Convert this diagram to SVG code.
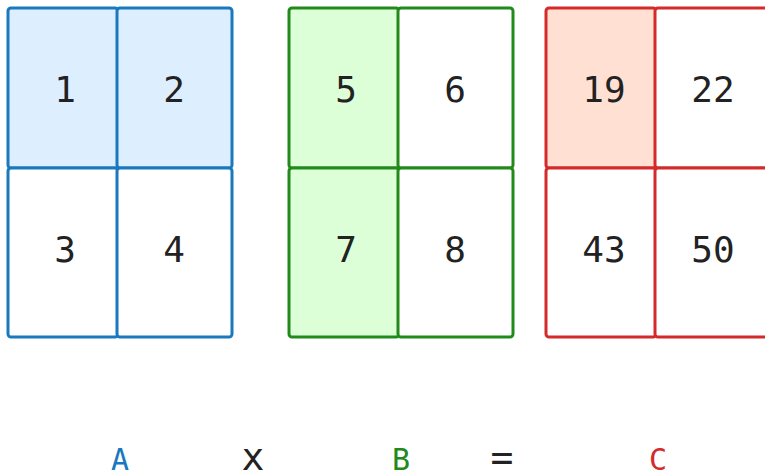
<svg xmlns="http://www.w3.org/2000/svg" width="765" height="476" viewBox="0 0 765 476">
<style>
.c{stroke-width:3;}
.a{stroke:#1a78be;}
.b{stroke:#218a1a;}
.r{stroke:#d42a2a;}
.t{font-family:"DejaVu Sans Mono",monospace;font-size:36px;fill:#222;text-anchor:middle;}
.l{font-family:"DejaVu Sans Mono",monospace;font-size:30px;text-anchor:middle;}
.o{font-family:"DejaVu Sans Mono",monospace;font-size:38px;text-anchor:middle;fill:#222;}
</style>
<rect width="765" height="476" fill="#fff"/>
<g id="matrixA">
<rect class="c a" x="8" y="8" width="110" height="160" rx="3" fill="#ddeeff"/>
<rect class="c a" x="117" y="8" width="115" height="160" rx="3" fill="#ddeeff"/>
<rect class="c a" x="8" y="168" width="110" height="169" rx="3" fill="#fff"/>
<rect class="c a" x="117" y="168" width="115" height="169" rx="3" fill="#fff"/>
<text class="t" x="65" y="102">1</text>
<text class="t" x="174" y="102">2</text>
<text class="t" x="65" y="262">3</text>
<text class="t" x="174" y="262">4</text>
</g>
<g id="matrixB">
<rect class="c b" x="289" y="8" width="110" height="160" rx="3" fill="#ddffd8"/>
<rect class="c b" x="398" y="8" width="115" height="160" rx="3" fill="#fff"/>
<rect class="c b" x="289" y="168" width="110" height="169" rx="3" fill="#ddffd8"/>
<rect class="c b" x="398" y="168" width="115" height="169" rx="3" fill="#fff"/>
<text class="t" x="346" y="102">5</text>
<text class="t" x="455" y="102">6</text>
<text class="t" x="346" y="262">7</text>
<text class="t" x="455" y="262">8</text>
</g>
<g id="matrixC">
<rect class="c r" x="546" y="8" width="110" height="160" rx="3" fill="#ffe0d2"/>
<rect class="c r" x="655" y="8" width="115" height="160" rx="3" fill="#fff"/>
<rect class="c r" x="546" y="168" width="110" height="169" rx="3" fill="#fff"/>
<rect class="c r" x="655" y="168" width="115" height="169" rx="3" fill="#fff"/>
<text class="t" x="604" y="102">19</text>
<text class="t" x="713" y="102">22</text>
<text class="t" x="604" y="262">43</text>
<text class="t" x="713" y="262">50</text>
</g>
<g id="labels">
<text class="l" x="120" y="470" fill="#1a78be">A</text>
<text class="o" x="253" y="470">x</text>
<text class="l" x="401" y="470" fill="#218a1a">B</text>
<text class="o" x="502" y="470">=</text>
<text class="l" x="658" y="470" fill="#d42a2a">C</text>
</g>
</svg>
